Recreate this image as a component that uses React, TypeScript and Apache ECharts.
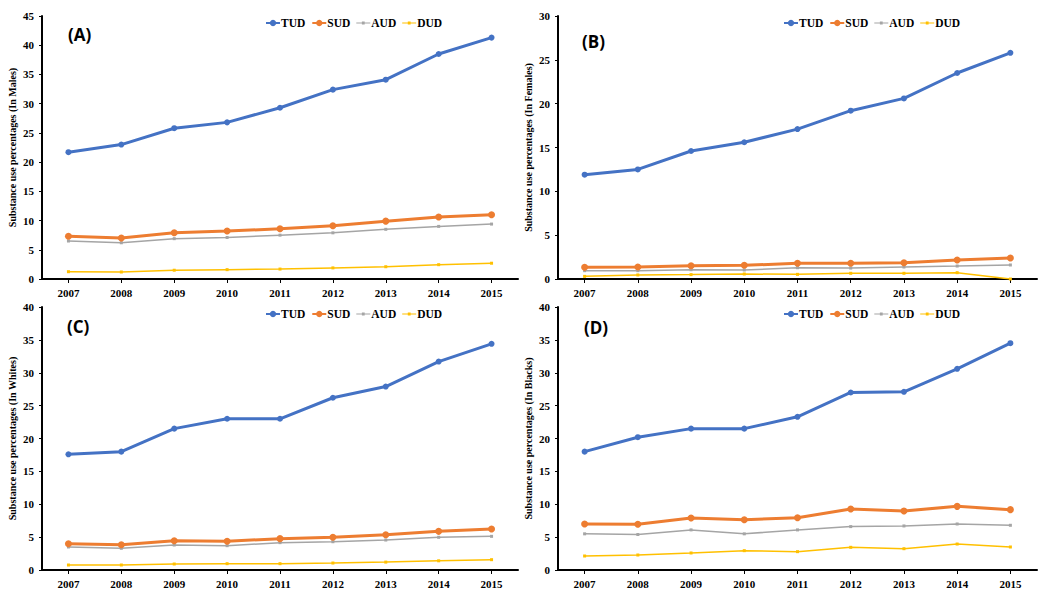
import React, { useEffect, useRef } from "react";
import * as echarts from "echarts";

const years = ["2007", "2008", "2009", "2010", "2011", "2012", "2013", "2014", "2015"];
const seriesNames = ["TUD", "SUD", "AUD", "DUD"];

// Panel A: Males
const malesTUD = [21.7, 23.0, 25.8, 26.8, 29.3, 32.4, 34.1, 38.5, 41.3];
const malesSUD = [7.3, 7.0, 7.9, 8.2, 8.6, 9.1, 9.9, 10.6, 11.0];
const malesAUD = [6.5, 6.2, 6.9, 7.1, 7.5, 7.9, 8.5, 9.0, 9.4];
const malesDUD = [1.25, 1.2, 1.5, 1.6, 1.7, 1.9, 2.1, 2.45, 2.7];

// Panel B: Females
const femalesTUD = [11.9, 12.5, 14.6, 15.6, 17.1, 19.2, 20.6, 23.5, 25.8];
const femalesSUD = [1.33, 1.37, 1.52, 1.56, 1.79, 1.79, 1.86, 2.17, 2.4];
const femalesAUD = [0.95, 0.95, 1.06, 1.03, 1.29, 1.25, 1.37, 1.48, 1.6];
const femalesDUD = [0.3, 0.46, 0.5, 0.57, 0.53, 0.65, 0.65, 0.72, 0.0];

// Panel C: Whites
const whitesTUD = [17.6, 18.0, 21.5, 23.0, 23.0, 26.2, 27.9, 31.7, 34.4];
const whitesSUD = [4.0, 3.85, 4.46, 4.36, 4.77, 4.97, 5.37, 5.88, 6.24];
const whitesAUD = [3.5, 3.3, 3.8, 3.7, 4.16, 4.3, 4.56, 4.97, 5.12];
const whitesDUD = [0.76, 0.76, 0.91, 0.96, 0.96, 1.06, 1.2, 1.4, 1.57];

// Panel D: Blacks
const blacksTUD = [18.0, 20.2, 21.5, 21.5, 23.3, 27.0, 27.1, 30.6, 34.5];
const blacksSUD = [7.0, 6.95, 7.9, 7.65, 7.96, 9.28, 8.97, 9.68, 9.18];
const blacksAUD = [5.5, 5.4, 6.1, 5.5, 6.1, 6.6, 6.7, 7.0, 6.8];
const blacksDUD = [2.13, 2.28, 2.59, 2.94, 2.79, 3.45, 3.24, 3.95, 3.5];

const panelLabels = ["(A)", "(B)", "(C)", "(D)"];
const yTitles = [
  "Substance use percentages (In Males)",
  "Substance use percentages (In Females)",
  "Substance use percentages (In Whites)",
  "Substance use percentages (In Blacks)",
];
const yMax = [45, 30, 40, 40];

const panelData = [
  [malesTUD, malesSUD, malesAUD, malesDUD],
  [femalesTUD, femalesSUD, femalesAUD, femalesDUD],
  [whitesTUD, whitesSUD, whitesAUD, whitesDUD],
  [blacksTUD, blacksSUD, blacksAUD, blacksDUD],
];

const colors = ["#4472C4", "#ED7D31", "#A5A5A5", "#FFC000"];
const lineWidths = [3, 3, 1.5, 1.5];
const symbolSizes = [6, 7, 3, 3];
const symbols = ["circle", "circle", "rect", "rect"];

const serif = "'Liberation Serif', 'Times New Roman', serif";
const thinIcon = "path://M0,3.4L14,3.4L14,4.6L0,4.6Z M5.6,2.6L8.4,2.6L8.4,5.4L5.6,5.4Z";

export default function App() {
  const ref = useRef<HTMLDivElement>(null);

  useEffect(() => {
    if (!ref.current) return;
    const chart = echarts.init(ref.current, undefined, { renderer: "svg" });

    const grids = [
      { left: 42, top: 16, width: 476, height: 263 },
      { left: 558, top: 16, width: 479, height: 263 },
      { left: 42, top: 307, width: 476, height: 263 },
      { left: 558, top: 307, width: 479, height: 263 },
    ];
    const legendPos = [
      { left: 265, top: 17 },
      { left: 783, top: 17 },
      { left: 265, top: 308 },
      { left: 783, top: 308 },
    ];
    const labelPos = [
      { x: 68, y: 26 },
      { x: 582, y: 33 },
      { x: 67, y: 318 },
      { x: 584, y: 319 },
    ];

    const xAxis = grids.map((_, i) => ({
      type: "category",
      gridIndex: i,
      data: years,
      boundaryGap: true,
      axisLine: { lineStyle: { color: "#000", width: 2 } },
      axisTick: { show: true, alignWithLabel: true, length: 4, lineStyle: { color: "#000" } },
      axisLabel: {
        color: "#000",
        fontFamily: serif,
        fontWeight: "bold",
        fontSize: 11,
        margin: 8,
      },
    }));

    const yAxis = grids.map((_, i) => ({
      type: "value",
      gridIndex: i,
      min: 0,
      max: yMax[i],
      interval: 5,
      name: yTitles[i],
      nameLocation: "middle",
      nameGap: 25,
      nameTextStyle: {
        color: "#000",
        fontFamily: serif,
        fontWeight: "bold",
        fontSize: 10,
      },
      splitLine: { show: false },
      axisLine: { show: true, lineStyle: { color: "#000", width: 2 } },
      axisTick: { show: true, length: 3, lineStyle: { color: "#000" } },
      axisLabel: {
        color: "#000",
        fontFamily: serif,
        fontWeight: "bold",
        fontSize: 11,
        margin: 8,
      },
    }));

    const series: any[] = [];
    panelData.forEach((panel, p) => {
      panel.forEach((vals, s) => {
        series.push({
          type: "line",
          name: seriesNames[s],
          xAxisIndex: p,
          yAxisIndex: p,
          data: vals,
          symbol: symbols[s],
          symbolSize: symbolSizes[s],
          showSymbol: true,
          lineStyle: { color: colors[s], width: lineWidths[s] },
          itemStyle: { color: colors[s] },
          z: 10 - s,
        });
      });
    });

    const legend = legendPos.map((pos) => ({
      data: [
        { name: "TUD" },
        { name: "SUD" },
        { name: "AUD", icon: thinIcon },
        { name: "DUD", icon: thinIcon },
      ],
      left: pos.left,
      top: pos.top,
      itemWidth: 14,
      itemHeight: 8,
      itemGap: 6,
      padding: 0,
      textStyle: {
        color: "#000",
        fontFamily: serif,
        fontWeight: "bold",
        fontSize: 11.5,
        padding: [0, 0, 0, -4],
      },
    }));

    const graphic = panelLabels.map((t, i) => ({
      type: "text",
      left: labelPos[i].x,
      top: labelPos[i].y,
      style: {
        text: t,
        fill: "#000",
        font: "bold 17px 'Open Sans', 'Liberation Sans', sans-serif",
      },
    }));

    chart.setOption({
      animation: false,
      backgroundColor: "#fff",
      color: colors,
      grid: grids,
      xAxis,
      yAxis,
      legend,
      series,
      graphic,
    });

    return () => chart.dispose();
  }, []);

  return (
    <div
      ref={ref}
      style={{ position: "fixed", left: 0, top: 0, width: 1050, height: 599 }}
    />
  );
}
